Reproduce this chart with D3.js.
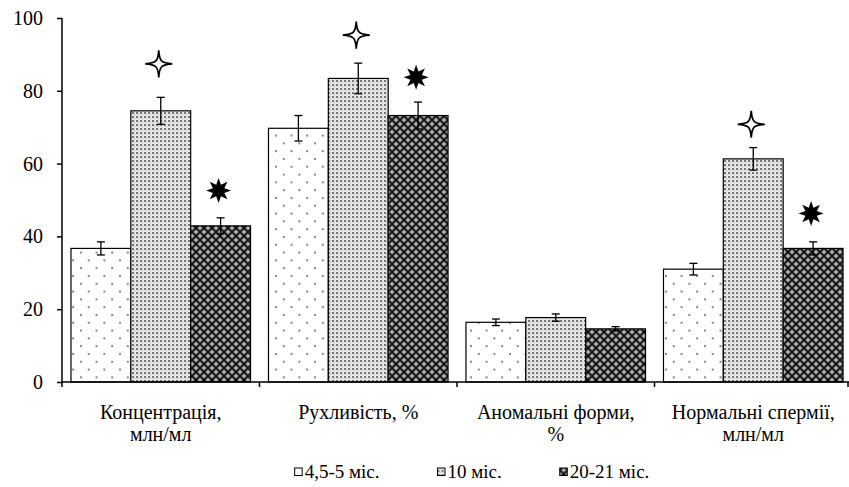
<!DOCTYPE html>
<html><head><meta charset="utf-8">
<script src="https://cdn.jsdelivr.net/npm/d3@7"></script>
<style>body{margin:0;background:#fff}svg{display:block}</style>
</head><body>
<svg id="c" width="849" height="487"></svg>
<script>
const categories = ["Концентрація,\nмлн/мл", "Рухливість, %", "Аномальні форми,\n%", "Нормальні спермії,\nмлн/мл"];
const seriesNames = ["4,5-5 міс.", "10 міс.", "20-21 міс."];
const values1 = [36.7, 69.7, 16.4, 31.0];
const values2 = [74.5, 83.4, 17.7, 61.3];
const values3 = [42.9, 73.2, 14.6, 36.7];
const errors1 = [1.8, 3.5, 0.9, 1.6];
const errors2 = [3.7, 4.2, 1.0, 3.1];
const errors3 = [2.2, 3.7, 0.6, 1.8];
const outlineStarY = [87.4, 95.3, null, 70.8];   // marker above series 2
const blackStarY = [52.6, 83.7, null, 46.3];     // marker above series 3
const yTicks = [0, 20, 40, 60, 80, 100];

const FONT = '"Liberation Serif"';
const svg = d3.select("#c");
const M = {left: 62, right: 852, top: 18, bottom: 382};

// patterns
const defs = svg.append("defs");
const p1 = defs.append("pattern").attr("id", "pat0").attr("patternUnits", "userSpaceOnUse")
  .attr("width", 15.6).attr("height", 15.6);
p1.append("rect").attr("width", 15.6).attr("height", 15.6).attr("fill", "#fff");
p1.append("circle").attr("cx", 3).attr("cy", 3).attr("r", 1.05).attr("fill", "#6a6a6a");
p1.append("circle").attr("cx", 10.8).attr("cy", 10.8).attr("r", 1.05).attr("fill", "#6a6a6a");

const p2 = defs.append("pattern").attr("id", "pat1").attr("patternUnits", "userSpaceOnUse")
  .attr("width", 4).attr("height", 4);
p2.append("rect").attr("width", 4).attr("height", 4).attr("fill", "#e6e6e6");
p2.append("rect").attr("x", 0).attr("y", 0).attr("width", 2).attr("height", 2).attr("fill", "#777");
p2.append("rect").attr("x", 2).attr("y", 2).attr("width", 1).attr("height", 1).attr("fill", "#bbb");

const p3 = defs.append("pattern").attr("id", "pat2").attr("patternUnits", "userSpaceOnUse")
  .attr("width", 8).attr("height", 8);
p3.append("rect").attr("width", 8).attr("height", 8).attr("fill", "#8c8c8c");
p3.append("path").attr("d", "M0,0L8,8M8,0L0,8").attr("stroke", "#111").attr("stroke-width", 1.6);
p3.append("rect").attr("x", 3).attr("y", 3).attr("width", 2).attr("height", 2).attr("fill", "#000");
p3.append("rect").attr("x", 3.5).attr("y", 0).attr("width", 1).attr("height", 1).attr("fill", "#ddd");
p3.append("rect").attr("x", 0).attr("y", 3.5).attr("width", 1).attr("height", 1).attr("fill", "#ddd");
p3.append("rect").attr("x", 7).attr("y", 3.5).attr("width", 1).attr("height", 1).attr("fill", "#ddd");
p3.append("rect").attr("x", 3.5).attr("y", 7).attr("width", 1).attr("height", 1).attr("fill", "#ddd");

const x0 = d3.scaleBand().domain(categories).range([M.left, M.right]).paddingInner(0).paddingOuter(0);
const x1 = d3.scaleBand().domain(seriesNames).range([0, x0.bandwidth()]).paddingInner(0).paddingOuter(0.15);
const y = d3.scaleLinear().domain([0, 100]).range([M.bottom, M.top]);

const allVals = [values1, values2, values3];
const allErr = [errors1, errors2, errors3];
const data = [];
categories.forEach((c, i) => seriesNames.forEach((s, j) => data.push({c, s, j, v: allVals[j][i], e: allErr[j][i]})));

// bars
svg.append("g").selectAll("rect").data(data).join("rect")
  .attr("x", d => x0(d.c) + x1(d.s))
  .attr("y", d => y(d.v))
  .attr("width", x1.bandwidth())
  .attr("height", d => y(0) - y(d.v))
  .attr("fill", d => `url(#pat${d.j})`)
  .attr("stroke", "#000").attr("stroke-width", 1.2);

// error bars
const eg = svg.append("g").attr("stroke", "#000").attr("stroke-width", 1.3);
data.forEach(d => {
  const cx = x0(d.c) + x1(d.s) + x1.bandwidth() / 2;
  eg.append("line").attr("x1", cx).attr("x2", cx).attr("y1", y(d.v + d.e)).attr("y2", y(d.v - d.e));
  eg.append("line").attr("x1", cx - 4).attr("x2", cx + 4).attr("y1", y(d.v + d.e)).attr("y2", y(d.v + d.e));
  eg.append("line").attr("x1", cx - 4).attr("x2", cx + 4).attr("y1", y(d.v - d.e)).attr("y2", y(d.v - d.e));
});

// stars
function star4(R, r) {
  return `M0,${-R}C${r * 0.3},${-r} ${r},${-r * 0.3} ${R},0` +
         `C${r},${r * 0.3} ${r * 0.3},${r} 0,${R}` +
         `C${-r * 0.3},${r} ${-r},${r * 0.3} ${-R},0` +
         `C${-r},${-r * 0.3} ${-r * 0.3},${-r} 0,${-R}Z`;
}
function star8(R, r) {
  const pts = [];
  for (let k = 0; k < 16; k++) {
    const a = -Math.PI / 2 + k * Math.PI / 8;
    const rad = k % 2 ? r : R;
    pts.push([rad * Math.cos(a), rad * Math.sin(a)]);
  }
  return "M" + pts.map(p => p.join(",")).join("L") + "Z";
}
categories.forEach((c, i) => {
  if (outlineStarY[i] != null) {
    const cx = x0(c) + x1(seriesNames[1]) + x1.bandwidth() / 2 - 2;
    svg.append("path").attr("d", star4(13.5, 2.5)).attr("transform", `translate(${cx},${y(outlineStarY[i])})`)
      .attr("fill", "#fff").attr("stroke", "#000").attr("stroke-width", 1.7).attr("stroke-linejoin", "miter");
  }
  if (blackStarY[i] != null) {
    const cx = x0(c) + x1(seriesNames[2]) + x1.bandwidth() / 2 - 2;
    svg.append("path").attr("d", star8(12.5, 6.2)).attr("transform", `translate(${cx},${y(blackStarY[i])})`)
      .attr("fill", "#000");
  }
});

// y axis
const ya = svg.append("g").attr("transform", `translate(${M.left},0)`)
  .call(d3.axisLeft(y).tickValues(yTicks).tickSize(5).tickPadding(14).tickFormat(d3.format("d")));
ya.select(".domain").attr("d", `M0,${M.top}V${M.bottom + 5}`).attr("stroke-width", 1.5);
ya.selectAll(".tick line").attr("stroke-width", 1.5);
ya.selectAll("text").style("font-family", FONT).style("font-size", "20px").attr("fill", "#000");

// x axis
const xa = svg.append("g").attr("transform", `translate(0,${M.bottom})`);
xa.append("line").attr("x1", M.left).attr("x2", 849).attr("stroke", "#000").attr("stroke-width", 1.5);
const bounds = categories.map(c => x0(c)).slice(1).concat([x0(categories[3]) + x0.bandwidth() - 4]);
xa.selectAll(".tk").data(bounds).join("line").attr("x1", d => d).attr("x2", d => d).attr("y1", 0).attr("y2", 5)
  .attr("stroke", "#000").attr("stroke-width", 1.5);
categories.forEach(c => {
  const lines = c.split("\n");
  const t = xa.append("text").attr("x", x0(c) + x0.bandwidth() / 2).attr("y", 37)
    .attr("text-anchor", "middle").style("font-family", FONT).style("font-size", "20px");
  lines.forEach((l, k) => t.append("tspan").attr("x", x0(c) + x0.bandwidth() / 2).attr("dy", k ? 22 : 0).text(l));
});

// legend
const lg = svg.append("g");
let lx = 0;
seriesNames.forEach((s, j) => {
  const g = lg.append("g");
  g.append("rect").attr("x", 0).attr("y", -10).attr("width", 7.5).attr("height", 7.5)
    .attr("fill", `url(#pat${j})`).attr("stroke", "#000").attr("stroke-width", 1);
  const t = g.append("text").attr("x", 10).attr("y", 0).style("font-family", FONT).style("font-size", "19px").text(s);
  const w = 10 + t.node().getComputedTextLength();
  g.attr("transform", `translate(${lx},0)`);
  lx += w + 58;
});
const totalW = lx - 58;
lg.attr("transform", `translate(${(268 + 676) / 2 - totalW / 2},478)`);
</script>
</body></html>
